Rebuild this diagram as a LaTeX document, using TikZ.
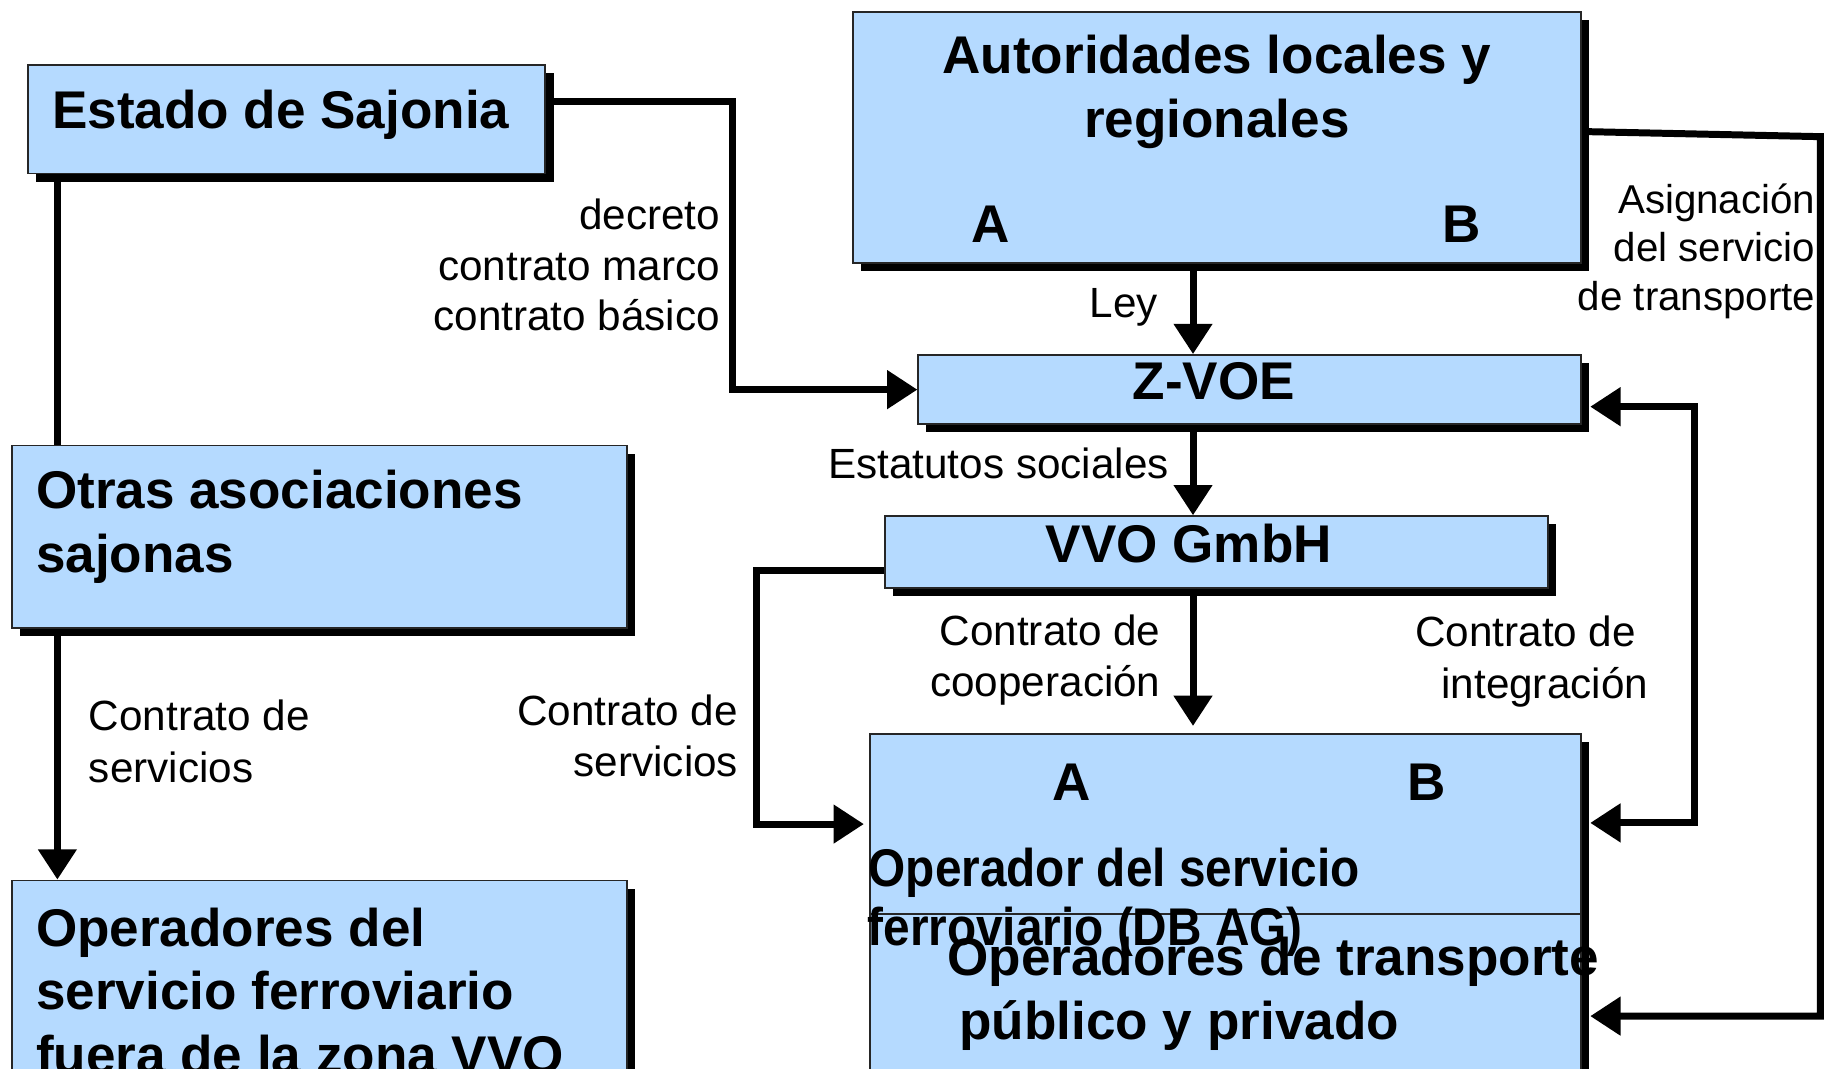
\documentclass[tikz,border=0pt]{standalone}
\usepackage{fontspec}
\usepackage{graphicx}
\setmainfont{Liberation Sans}
\usetikzlibrary{arrows.meta,shadows,fit}
\definecolor{boxblue}{RGB}{181,218,255}
\begin{document}
\begin{tikzpicture}[x=0.5pt,y=-0.5pt,
  box/.style={draw=black!85,line width=0.8pt,fill=boxblue,inner sep=0pt,
     drop shadow={shadow xshift=3.5pt,shadow yshift=-3.5pt,fill=black,opacity=1}},
  bt/.style={font=\fontsize{22.8}{27}\selectfont\bfseries,inner sep=0pt},
  lt/.style={font=\fontsize{18.15}{22}\selectfont,inner sep=0pt},
  st/.style={font=\fontsize{17.3}{21}\selectfont,inner sep=0pt},
  conn/.style={line width=3pt},
  arr/.style={conn,-{Triangle[length=13pt,width=16pt]}},
  darr/.style={conn,{Triangle[length=13pt,width=16pt]}-{Triangle[length=13pt,width=16pt]}},
]
\path[use as bounding box] (0,0) rectangle (1568,918);
\clip (0,0) rectangle (1568,918);

% boxes
\node[box,fit={(23.7,56)(468.6,149)}] (estado) {};
\node[box,fit={(732.5,10)(1358.5,226)}] (autor) {};
\node[box,fit={(789,305)(1358.5,364.5)}] (zvoe) {};
\node[box,fit={(760.5,443.5)(1330,505)}] (vvo) {};
\node[box,fit={(10,382.7)(538.6,539.7)}] (otras) {};
\node[box,fit={(10,756.5)(538.6,1000)}] (fuera) {};
\node[box,fit={(747.5,630.5)(1358.5,785.5)}] (oper) {};
\node[box,fit={(747.5,785.5)(1358.5,1000)}] (trans) {};

% box texts
\node[bt,anchor=base west] (testado) at (44.4,110.3) {Estado de Sajonia};
\node[bt,anchor=base] (tautor1) at (1045.5,63.5) {Autoridades locales y};
\node[bt,anchor=base] (tautor2) at (1045.5,118.5) {regionales};
\node[bt,anchor=base] (tautorA) at (851,208.5) {A};
\node[bt,anchor=base] (tautorB) at (1256,208.5) {B};
\node[bt,anchor=base] (tzvoe) at (1043,343) {Z-VOE};
\node[bt,anchor=base] (tvvo) at (1021.4,483) {VVO GmbH};
\node[bt,anchor=base west] (totras1) at (30.6,437) {Otras asociaciones};
\node[bt,anchor=base west] (totras2) at (30.6,492) {sajonas};
\node[bt,anchor=base west] (tfuera1) at (30.6,813) {Operadores del};
\node[bt,anchor=base west] (tfuera2) at (30.6,867.5) {servicio ferroviario};
\node[bt,anchor=base west] (tfuera3) at (30.6,922) {fuera de la zona VVO};
\node[bt,anchor=base] (toperA) at (921,687.5) {A};
\node[bt,anchor=base] (toperB) at (1226,687.5) {B};
\node[bt,anchor=base west] (toper1) at (746,762) {\scalebox{0.9}[1]{Operador del servicio}};
\node[bt,anchor=base west] (toper2) at (745,812) {\scalebox{0.9}[1]{ferroviario (DB AG)}};
\node[bt,anchor=base west] (ttrans1) at (813.5,838) {Operadores de transporte};
\node[bt,anchor=base west] (ttrans2) at (824,893) {público y privado};

% connector labels
\node[lt,anchor=base east] (ldec1) at (619,197.5) {decreto};
\node[lt,anchor=base east] (ldec2) at (619,241) {contrato marco};
\node[lt,anchor=base east] (ldec3) at (619,284) {contrato básico};
\node[lt,anchor=base east] (lley) at (995,273) {Ley};
\node[st,anchor=base east] (lasig1) at (1560,183.5) {Asignación};
\node[st,anchor=base east] (lasig2) at (1560,225) {del servicio};
\node[st,anchor=base east] (lasig3) at (1560,266.5) {de transporte};
\node[lt,anchor=base east] (lest) at (1004.5,411.5) {Estatutos sociales};
\node[lt,anchor=base east] (lcoop1) at (997.5,554.5) {Contrato de};
\node[lt,anchor=base east] (lcoop2) at (997.5,598) {cooperación};
\node[lt,anchor=base west] (lint1) at (1215.5,555.5) {Contrato de};
\node[lt,anchor=base west] (lint2) at (1238,600) {integración};
\node[lt,anchor=base east] (lserv1) at (634.5,623) {Contrato de};
\node[lt,anchor=base east] (lserv2) at (634.5,667) {servicios};
\node[lt,anchor=base west] (lsv1) at (76,628) {Contrato de};
\node[lt,anchor=base west] (lsv2) at (76,672) {servicios};

% connectors
\coordinate (lx) at (49.3,0);
\coordinate (mx) at (1025,0);
\coordinate (c1) at (629,87.4);
\draw[arr] (estado.east |- c1) -- (c1) |- (zvoe.west);
\draw[conn] (estado.south -| lx) -- (otras.north -| lx);
\draw[arr] (otras.south -| lx) -- (fuera.north -| lx);
\draw[arr] (autor.south -| mx) -- (zvoe.north -| mx);
\draw[arr] (zvoe.south -| mx) -- (vvo.north -| mx);
\draw[arr,shorten >=3pt] (vvo.south -| mx) -- (oper.north -| mx);
\coordinate (c2) at (650,490);
\coordinate (c3) at (650,708);
\draw[arr,shorten >=2.25pt] (vvo.west |- c2) -- (c2) -- (c3) -- (oper.west |- c3);
\coordinate (c4a) at (1364,113);
\coordinate (c4) at (1564,117.4);
\coordinate (c5) at (1564,873);
\draw[arr,shorten >=3.5pt] (autor.east |- c4a) -- (c4) -- (c5) -- (trans.east |- c5);
\coordinate (c6) at (1455.6,349.4);
\coordinate (c7) at (1455.6,707);
\draw[darr,shorten <=3.5pt,shorten >=3.5pt] (zvoe.east |- c6) -- (c6) -- (c7) -- (oper.east |- c7);
\end{tikzpicture}
\end{document}
